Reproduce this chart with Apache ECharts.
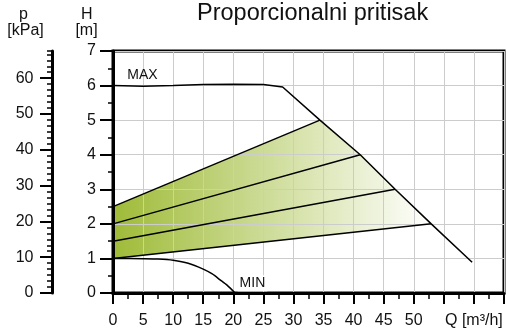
<!DOCTYPE html>
<html><head><meta charset="utf-8">
<script src="https://cdn.jsdelivr.net/npm/echarts@6/dist/echarts.min.js"></script>
<style>html,body{margin:0;padding:0;background:#fff}#c{width:507px;height:334px}</style>
</head><body><div id="c"></div>
<script>
// ---- data ----
const titleText = 'Proporcionalni pritisak';
const qLabeledTicks = [0, 5, 10, 15, 20, 25, 30, 35, 40, 45, 50];
const qAxisName = 'Q [m³/h]';
const maxCurve = [[0, 6.0], [5, 5.98], [10, 6.0], [15, 6.03], [20, 6.04], [25, 6.03], [28.2, 5.96],
                  [34.4, 5.0], [41.1, 4.0], [46.9, 3.0], [52.9, 2.0], [59.7, 0.89]];
const minCurve = [[0, 1.0], [5, 0.99], [7.5, 0.98], [10, 0.945], [12.5, 0.86], [15, 0.69],
                  [16.5, 0.55], [17.8, 0.38], [19, 0.22], [20.3, 0]];
const prop1 = [[0, 2.5], [34.4, 5.0]];
const prop2 = [[0, 2.0], [41.1, 4.0]];
const prop3 = [[0, 1.5], [46.9, 3.0]];
const prop4 = [[0, 1.0], [52.9, 2.0]];

const bandOutline = [prop1[0], prop1[1]]
  .concat(maxCurve.filter(p => p[0] > prop1[1][0] && p[0] < prop4[1][0]))
  .concat([prop4[1], prop4[0]]);

const FONT = '"Liberation Sans", Arial, sans-serif';
const chart = echarts.init(document.getElementById('c'), null, {renderer: 'canvas'});

function lineSeries(data, extra) {
  return Object.assign({
    type: 'line', data: data, xAxisIndex: 0, yAxisIndex: 0,
    symbol: 'none', showSymbol: false, silent: true, z: 3,
    lineStyle: {color: '#000', width: 1.5}
  }, extra || {});
}

chart.setOption({
  animation: false,
  title: {
    text: titleText, left: 197, top: 1.5, padding: 0,
    textStyle: {fontFamily: FONT, fontSize: 23.5, fontWeight: 'normal', color: '#111'}
  },
  graphic: [
    {type: 'text', x: 23.5, y: 15, style: {text: 'p', font: '16px ' + FONT, fill: '#111', align: 'center', verticalAlign: 'middle'}},
    {type: 'text', x: 25.5, y: 31, style: {text: '[kPa]', font: '16px ' + FONT, fill: '#111', align: 'center', verticalAlign: 'middle'}},
    {type: 'text', x: 86.7, y: 15, style: {text: 'H', font: '16px ' + FONT, fill: '#111', align: 'center', verticalAlign: 'middle'}},
    {type: 'text', x: 86.5, y: 31, style: {text: '[m]', font: '16px ' + FONT, fill: '#111', align: 'center', verticalAlign: 'middle'}}
  ],
  grid: [
    {left: 113, top: 51, right: 2, bottom: 41, show: true, borderColor: '#000', borderWidth: 3, backgroundColor: 'transparent'},
    {left: 52, top: 51, width: 10, bottom: 41},
    {left: 52, top: 78.2, width: 10, bottom: 41}
  ],
  xAxis: [
    {
      type: 'value', gridIndex: 0, min: 0, max: 65, interval: 5,
      axisLine: {show: true, lineStyle: {color: '#000', width: 3}},
      axisTick: {show: true, length: 11, lineStyle: {color: '#000', width: 2}},
      minorTick: {show: true, splitNumber: 2, length: 6, lineStyle: {color: '#000', width: 1.5}},
      axisLabel: {
        margin: 20, fontFamily: FONT, fontSize: 16, color: '#111',
        showMinLabel: true, showMaxLabel: true,
        formatter: v => qLabeledTicks.indexOf(v) >= 0 ? String(v) : (v === 60 ? qAxisName : '')
      },
      splitLine: {show: true, lineStyle: {color: '#cccccc', width: 1}}
    },
    {type: 'value', gridIndex: 1, show: false, min: 0, max: 1},
    {type: 'value', gridIndex: 2, show: false, min: 0, max: 1}
  ],
  yAxis: [
    {
      type: 'value', gridIndex: 0, min: 0, max: 7, interval: 1,
      axisLine: {show: true, lineStyle: {color: '#000', width: 3}},
      axisTick: {show: true, length: 13, lineStyle: {color: '#000', width: 2}},
      minorTick: {show: true, splitNumber: 2, length: 5, lineStyle: {color: '#000', width: 1.5}},
      axisLabel: {margin: 17, fontFamily: FONT, fontSize: 16, color: '#111'},
      splitLine: {show: true, lineStyle: {color: '#cccccc', width: 1}}
    },
    {
      type: 'value', gridIndex: 1, min: 0, max: 67.6, interval: 10 / 6,
      axisLine: {show: true, lineStyle: {color: '#000', width: 3}},
      axisTick: {show: true, length: 5, lineStyle: {color: '#000', width: 1.5}},
      axisLabel: {show: false},
      splitLine: {show: false}
    },
    {
      type: 'value', gridIndex: 2, min: 0, max: 60, interval: 10,
      axisLine: {show: false},
      axisTick: {show: true, length: 12, lineStyle: {color: '#000', width: 2}},
      axisLabel: {margin: 18.5, fontFamily: FONT, fontSize: 16, color: '#111'},
      splitLine: {show: false}
    }
  ],
  series: [
    {
      type: 'custom', xAxisIndex: 0, yAxisIndex: 0, z: -1, silent: true,
      data: [[0, 0]],
      renderItem: function (params, api) {
        const pts = bandOutline.map(p => api.coord(p));
        return {
          type: 'polygon', shape: {points: pts},
          style: {fill: new echarts.graphic.LinearGradient(0, 0, 1, 0, [
            {offset: 0, color: '#9fbb38'}, {offset: 1, color: '#ffffff'}])}
        };
      }
    },
    lineSeries(maxCurve, {
      markPoint: {
        symbol: 'rect', symbolSize: 0, silent: true,
        data: [{coord: [4.89, 6.31], label: {show: true, position: 'inside', formatter: 'MAX', fontFamily: FONT, fontSize: 14, color: '#111'}}]
      }
    }),
    lineSeries(minCurve, {
      smooth: 0.25,
      markPoint: {
        symbol: 'rect', symbolSize: 0, silent: true,
        data: [{coord: [23.18, 0.28], label: {show: true, position: 'inside', formatter: 'MIN', fontFamily: FONT, fontSize: 14, color: '#111', backgroundColor: '#fff', padding: [1, 2]}}]
      }
    }),
    lineSeries(prop1),
    lineSeries(prop2),
    lineSeries(prop3),
    lineSeries(prop4)
  ]
});
</script></body></html>
